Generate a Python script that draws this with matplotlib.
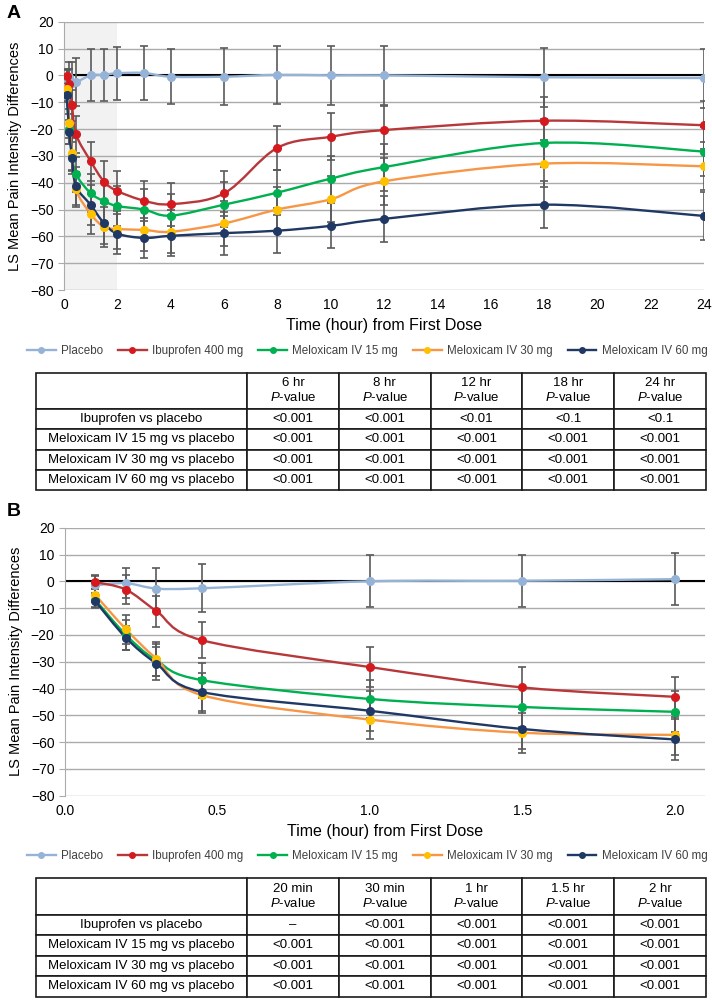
import matplotlib
matplotlib.use("Agg")
import matplotlib.pyplot as plt
from matplotlib.path import Path
from matplotlib.patches import PathPatch
from matplotlib.lines import Line2D
import numpy as np

plt.rcParams['font.family'] = ['Liberation Sans', 'DejaVu Sans']
plt.rcParams['mathtext.fontset'] = 'custom'
plt.rcParams['mathtext.rm'] = 'Liberation Sans'
plt.rcParams['mathtext.it'] = 'Liberation Sans:italic'

# hours after first dose
times = [0.1, 0.2, 0.3, 0.45, 1, 1.5, 2, 3, 4, 6, 8, 10, 12, 18, 24]

placebo = [-1.5, -0.7, -2.7, -2.6, 0.0, 0.2, 0.8, 0.9, -0.5, -0.5, 0.2, 0.0, 0.0, -0.7, -1.0]
ibuprofen = [-0.3, -3.1, -11.1, -22.0, -32.0, -39.6, -43.1, -46.7, -48.0, -44.0, -27.0, -22.9, -20.4, -16.9, -18.6]
mel15 = [-7.0, -20.0, -29.5, -36.9, -43.9, -46.9, -48.7, -50.0, -52.3, -48.2, -43.7, -38.5, -34.2, -25.2, -28.4]
mel30 = [-5.2, -17.9, -28.9, -42.5, -51.6, -56.5, -57.3, -57.6, -58.3, -55.2, -50.0, -46.2, -39.5, -32.9, -33.9]
mel60 = [-7.5, -21.1, -30.7, -41.3, -48.3, -55.1, -59.0, -60.6, -59.8, -58.8, -57.9, -56.1, -53.5, -48.2, -52.4]

placebo_err = [3.5, 5.7, 7.7, 9.0, 9.7, 9.8, 9.8, 10.0, 10.2, 10.7, 10.9, 10.9, 11.0, 11.0, 11.0]
ibuprofen_err = [2.5, 5.5, 5.8, 6.8, 7.3, 7.6, 7.5, 7.4, 8.0, 8.5, 8.2, 8.7, 9.0, 8.7, 9.0]
mel15_err = [2.5, 5.5, 6.0, 6.5, 7.2, 7.5, 7.6, 7.8, 8.0, 8.4, 8.4, 8.5, 8.8, 8.8, 9.0]
mel30_err = [2.5, 5.5, 6.3, 6.5, 7.4, 7.5, 7.6, 7.8, 8.0, 8.4, 8.4, 8.6, 8.8, 8.8, 9.0]
mel60_err = [2.5, 4.5, 6.0, 7.0, 7.4, 7.6, 7.5, 7.6, 7.6, 8.0, 8.4, 8.4, 8.7, 8.8, 9.0]

names = ['Placebo', 'Ibuprofen 400 mg', 'Meloxicam IV 15 mg', 'Meloxicam IV 30 mg', 'Meloxicam IV 60 mg']
line_colors = ['#95b3d7', '#b8373a', '#00b050', '#f79646', '#1f3864']
marker_colors = ['#95b3d7', '#d41a1f', '#00b050', '#ffc000', '#1f3864']

rows = ['Ibuprofen vs placebo', 'Meloxicam IV 15 mg vs placebo',
        'Meloxicam IV 30 mg vs placebo', 'Meloxicam IV 60 mg vs placebo']
cols_a = ['6 hr', '8 hr', '12 hr', '18 hr', '24 hr']
pvals_a = [['<0.001', '<0.001', '<0.01', '<0.1', '<0.1'],
           ['<0.001'] * 5, ['<0.001'] * 5, ['<0.001'] * 5]
cols_b = ['20 min', '30 min', '1 hr', '1.5 hr', '2 hr']
pvals_b = [['\u2013', '<0.001', '<0.001', '<0.001', '<0.001'],
           ['<0.001'] * 5, ['<0.001'] * 5, ['<0.001'] * 5]

W, H = 712, 1001
fig = plt.figure(figsize=(W / 100, H / 100), dpi=100)


def smooth_path(x, y):
    # excel-like smoothed line: cubic bezier through every point
    x = np.asarray(x, float)
    y = np.asarray(y, float)
    p = np.column_stack([x, y])
    pad = np.vstack([p[0], p, p[-1]])
    verts = [p[0]]
    codes = [Path.MOVETO]
    for i in range(len(p) - 1):
        p0, p1, p2, p3 = pad[i], pad[i + 1], pad[i + 2], pad[i + 3]
        c1 = p1 + (p2 - p0) / 6.0
        c2 = p2 - (p3 - p1) / 6.0
        verts += [c1, c2, p2]
        codes += [Path.CURVE4] * 3
    return Path(verts, codes)


def draw_panel(rect, tmax, xlim, xticks, fmt, shade):
    ax = fig.add_axes(rect)
    ax.set_xlim(*xlim)
    ax.set_ylim(-80, 20)
    ax.set_yticks(range(-80, 21, 10))
    ax.set_xticks(xticks)
    ax.set_xticklabels([fmt.format(t) for t in xticks])
    ax.grid(axis='y', color='#ababab', lw=1.0)
    ax.set_axisbelow(True)
    for s in ['top', 'right', 'bottom']:
        ax.spines[s].set_visible(False)
    ax.spines['left'].set_color('#ababab')
    ax.tick_params(axis='y', length=4, color='#ababab', pad=3.5, labelsize=10)
    ax.tick_params(axis='x', length=0, pad=6, labelsize=10)
    if shade:
        ax.axvspan(0, 2, color='#f2f2f2', zorder=0, lw=0)
    ax.axhline(0, color='black', lw=1.5, zorder=2)

    series = [placebo, ibuprofen, mel15, mel30, mel60]
    errs = [placebo_err, ibuprofen_err, mel15_err, mel30_err, mel60_err]
    n = sum(1 for t in times if t <= tmax)
    x = times[:n]
    for k in range(5):
        y = series[k][:n]
        ax.errorbar(x, y, yerr=errs[k][:n], fmt='none', ecolor='#5a5a5a',
                    elinewidth=1.2, capsize=3, capthick=1.2, zorder=3)
    for k in range(5):
        y = series[k][:n]
        ax.add_patch(PathPatch(smooth_path(x, y), fc='none', ec=line_colors[k],
                               lw=1.7, zorder=4))
        ax.plot(x, y, 'o', ms=5.5, color=marker_colors[k], zorder=5)

    ax.set_ylabel('LS Mean Pain Intensity Differences', fontsize=10.5)
    ax.yaxis.set_label_coords(-0.066, 0.5)
    ax.set_xlabel('Time (hour) from First Dose', fontsize=11.5)
    ax.xaxis.set_label_coords(0.5, -0.105)
    return ax


def draw_legend(ytop):
    handles = [Line2D([], [], color=line_colors[k], lw=1.7, marker='o', ms=4,
                      mfc=marker_colors[k], mec=marker_colors[k]) for k in range(5)]
    fig.legend(handles, names, loc='center left',
               bbox_to_anchor=(27 / W, 1 - ytop / H), ncol=5, frameon=False,
               fontsize=8.4, handlelength=2.45, handletextpad=0.45,
               columnspacing=1.3, borderpad=0, borderaxespad=0,
               labelcolor='#404040')


def draw_table(top, bottom, cols, pvals):
    ax = fig.add_axes([36 / W, 1 - bottom / H, 670 / W, (bottom - top) / H])
    ax.axis('off')
    text = [[''] + [c + '\n$\\mathit{P}$-value' for c in cols]]
    text += [[r] + v for r, v in zip(rows, pvals)]
    tbl = ax.table(cellText=text, colWidths=[211] + [91.8] * 5,
                   cellLoc='center', bbox=[0, 0, 1, 1])
    tbl.auto_set_font_size(False)
    tbl.set_fontsize(9.5)
    for (r, c), cell in tbl.get_celld().items():
        cell.set_height(36.3 if r == 0 else 20.25)
        cell.set_linewidth(1.2)
        cell.set_edgecolor('#1a1a1a')
        if c == 0:
            cell._loc = 'right'
            cell.PAD = 0.055


draw_panel([64 / W, 1 - 290 / H, 640 / W, 268.3 / H], 24, (0, 24),
           list(range(0, 25, 2)), '{:d}', True)
draw_legend(351)
draw_table(372.7, 490, cols_a, pvals_a)

draw_panel([65 / W, 1 - 795.7 / H, 640 / W, 268 / H], 2, (0, 2.1),
           [0.0, 0.5, 1.0, 1.5, 2.0], '{:.1f}', False)
draw_legend(856)
draw_table(878, 996.5, cols_b, pvals_b)

fig.text(7 / W, 1 - 14 / H, 'A', fontsize=14, fontweight='bold', va='center')
fig.text(7 / W, 1 - 511 / H, 'B', fontsize=14, fontweight='bold', va='center')

fig.savefig('out.png', dpi=100)
